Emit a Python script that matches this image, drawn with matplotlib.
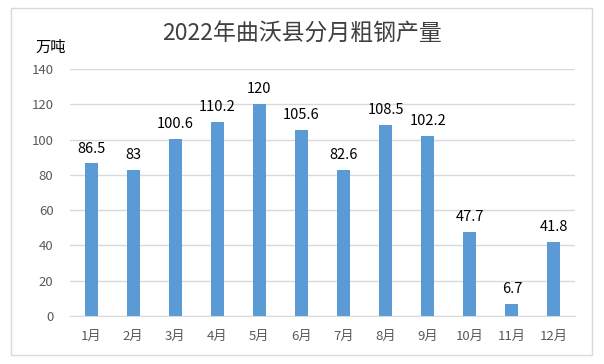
import matplotlib.pyplot as plt
from matplotlib.patches import Rectangle

plt.rcParams['font.family'] = ['Noto Sans CJK SC', 'DejaVu Sans']

months = ["1月", "2月", "3月", "4月", "5月", "6月", "7月", "8月", "9月", "10月", "11月", "12月"]
output = [86.5, 83, 100.6, 110.2, 120, 105.6, 82.6, 108.5, 102.2, 47.7, 6.7, 41.8]
yticks = [0, 20, 40, 60, 80, 100, 120, 140]

fig = plt.figure(figsize=(6.04, 3.64), dpi=100)
ax = fig.add_axes([0.116, 0.132, 0.836, 0.678])

# chart border
fig.patches.append(Rectangle((11 / 604, 9 / 364), 581 / 604, 347 / 364, transform=fig.transFigure,
                             fill=False, edgecolor="#d9d9d9", linewidth=1))

x = range(len(months))
bars = ax.bar(x, output, width=0.31, color="#5b9bd5", zorder=3)
for xi, v in zip(x, output):
    ax.text(xi, v + 4.5, f"{v:g}", ha="center", va="bottom", fontsize=10.5, color="#000000")

ax.set_xlim(-0.5, len(months) - 0.5)
ax.set_ylim(0, 140)
ax.set_yticks(yticks)
ax.set_xticks(list(x))
ax.set_xticklabels(months)
ax.tick_params(axis="both", length=0, colors="#595959", labelsize=9.5)
ax.tick_params(axis="x", pad=10)
ax.tick_params(axis="y", pad=12)
ax.grid(axis="y", color="#d9d9d9", linewidth=1, zorder=0)
for s in ["top", "right", "left"]:
    ax.spines[s].set_visible(False)
ax.spines["bottom"].set_color("#d9d9d9")

fig.text(0.5, 0.905, "2022年曲沃县分月粗钢产量", ha="center", va="center", fontsize=16.5, color="#404040")
fig.text(0.058, 0.87, "万吨", ha="left", va="center", fontsize=11, color="#000000")

fig.savefig("out.png", dpi=100)
